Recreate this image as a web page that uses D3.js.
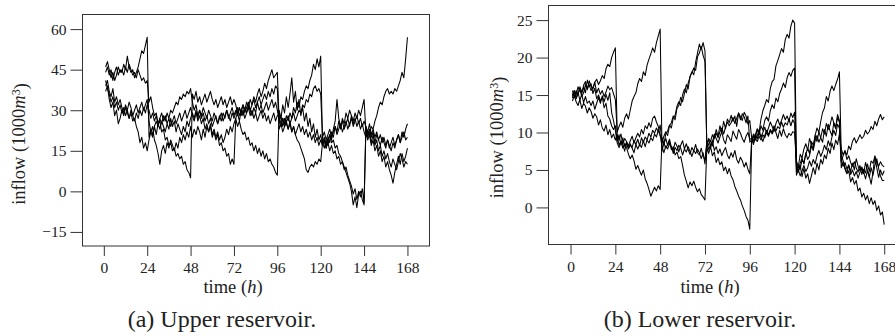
<!DOCTYPE html>
<html>
<head>
<meta charset="utf-8">
<script src="https://cdn.jsdelivr.net/npm/d3@7/dist/d3.min.js"></script>
<style>
body { margin: 0; background: #fff; }
.tick line { stroke: #333; }
.box { fill: none; stroke: #333; stroke-width: 1; }
.series { fill: none; stroke: #000; stroke-width: 1.05; stroke-linejoin: round; }
</style>
</head>
<body>
<script>

// hourly inflow scenarios, t = 1..168 (one row per day)
var hours = d3.range(1, 169);
var xTicks = [0, 24, 48, 72, 96, 120, 144, 168];
var upperTicks = [-15, 0, 15, 30, 45, 60];
var lowerTicks = [0, 5, 10, 15, 20, 25];

var upper1 = [
	44, 46, 43, 45, 41, 44, 46, 43, 45, 44, 47, 45, 50, 46, 44, 45, 42, 44, 46, 49, 52, 51, 54, 57,
	20, 23, 21, 24, 26, 24, 27, 25, 28, 26, 29, 27, 30, 29, 31, 33, 32, 35, 34, 36, 35, 37, 36, 38,
	33, 30, 32, 28, 30, 27, 29, 26, 28, 25, 27, 24, 26, 28, 25, 27, 29, 26, 28, 30, 27, 29, 31, 28,
	30, 28, 31, 29, 32, 30, 33, 31, 34, 32, 35, 33, 36, 38, 35, 37, 40, 38, 41, 43, 45, 42, 43, 44,
	26, 28, 24, 27, 25, 23, 26, 22, 24, 21, 19, 18, 16, 14, 12, 8, 7, 9, 10, 9, 11, 10, 12, 11,
	18, 20, 17, 19, 21, 18, 19, 16, 17, 14, 13, 11, 9, 7, 5, 3, 0, -5, -2, -6, -1, 0, -3, -5,
	24, 22, 25, 21, 23, 20, 22, 19, 21, 18, 20, 17, 19, 16, 18, 20, 17, 19, 21, 18, 22, 20, 23, 25];
var upper2 = [
	46, 48, 45, 42, 44, 41, 43, 46, 44, 45, 43, 46, 44, 47, 45, 43, 44, 42, 45, 43, 41, 42, 40, 41,
	33, 35, 31, 28, 29, 25, 26, 22, 23, 19, 20, 17, 18, 15, 16, 13, 14, 12, 13, 10, 11, 8, 7, 5,
	36, 34, 37, 33, 35, 32, 34, 36, 33, 35, 37, 34, 32, 34, 31, 33, 35, 32, 34, 31, 33, 35, 32, 34,
	32, 29, 31, 28, 30, 27, 29, 31, 28, 30, 27, 29, 26, 28, 30, 27, 29, 26, 28, 25, 27, 29, 26, 28,
	28, 25, 27, 24, 26, 28, 25, 27, 29, 26, 28, 30, 29, 32, 31, 34, 33, 36, 35, 38, 39, 37, 38, 36,
	20, 22, 19, 21, 23, 20, 22, 24, 21, 23, 25, 22, 24, 26, 23, 25, 27, 24, 26, 28, 25, 27, 24, 26,
	24, 21, 23, 20, 22, 18, 21, 19, 17, 20, 18, 16, 19, 17, 15, 18, 16, 19, 21, 18, 20, 22, 19, 20];
var upper3 = [
	41, 38, 36, 33, 35, 31, 33, 30, 32, 29, 31, 28, 30, 27, 29, 26, 27, 24, 22, 18, 20, 16, 18, 15,
	19, 22, 20, 24, 21, 25, 23, 26, 24, 22, 25, 23, 27, 24, 26, 22, 25, 23, 21, 24, 22, 26, 24, 27,
	29, 27, 30, 26, 28, 25, 27, 23, 25, 22, 24, 20, 22, 19, 21, 17, 18, 15, 16, 13, 14, 10, 12, 10,
	27, 24, 26, 23, 21, 22, 19, 20, 17, 18, 15, 17, 14, 16, 13, 15, 12, 14, 11, 12, 10, 9, 7, 6,
	30, 27, 32, 29, 35, 31, 36, 42, 33, 37, 30, 34, 28, 31, 26, 29, 24, 27, 22, 25, 20, 23, 19, 21,
	17, 19, 16, 20, 18, 22, 20, 24, 22, 26, 23, 27, 25, 29, 27, 30, 28, 26, 29, 27, 30, 28, 31, 34,
	22, 19, 21, 17, 19, 15, 17, 13, 15, 11, 13, 9, 11, 8, 6, 3, 7, 10, 13, 10, 14, 11, 13, 16];
var upper4 = [
	39, 41, 37, 35, 38, 33, 35, 32, 34, 31, 29, 32, 30, 33, 31, 28, 30, 32, 29, 31, 33, 30, 32, 34,
	26, 22, 24, 19, 17, 14, 10, 15, 17, 14, 18, 16, 19, 17, 15, 18, 16, 20, 18, 21, 19, 22, 20, 24,
	20, 23, 21, 24, 22, 19, 23, 20, 24, 22, 25, 21, 23, 20, 22, 19, 21, 18, 20, 23, 21, 24, 22, 25,
	27, 29, 26, 30, 28, 31, 29, 32, 30, 28, 31, 29, 33, 30, 32, 29, 31, 33, 30, 32, 34, 31, 33, 30,
	26, 24, 27, 25, 28, 26, 29, 27, 31, 29, 33, 31, 35, 34, 37, 39, 38, 41, 43, 47, 45, 49, 46, 50,
	18, 16, 19, 17, 21, 19, 23, 26, 34, 27, 24, 26, 23, 25, 27, 24, 28, 25, 27, 24, 26, 23, 25, 22,
	20, 22, 21, 24, 23, 26, 28, 31, 33, 32, 35, 37, 38, 36, 37, 36, 38, 37, 39, 41, 44, 42, 49, 57];
var upper5 = [
	37, 39, 34, 31, 33, 28, 30, 25, 27, 30, 28, 31, 29, 27, 30, 28, 26, 29, 27, 30, 28, 31, 29, 32,
	30, 27, 29, 26, 28, 25, 27, 29, 26, 28, 25, 27, 24, 26, 28, 25, 27, 29, 26, 28, 30, 27, 29, 31,
	28, 26, 29, 27, 30, 28, 31, 29, 27, 30, 28, 26, 29, 27, 25, 28, 26, 29, 27, 30, 28, 26, 29, 27,
	29, 31, 28, 30, 32, 29, 31, 33, 30, 32, 34, 31, 33, 35, 32, 34, 36, 34, 37, 35, 38, 36, 39, 38,
	23, 25, 22, 24, 26, 23, 25, 22, 24, 21, 23, 25, 22, 24, 21, 23, 20, 22, 19, 21, 18, 20, 17, 19,
	17, 19, 16, 18, 15, 17, 14, 15, 12, 13, 10, 11, 8, 9, 6, 4, 2, -1, 1, -3, 0, -2, 1, -4,
	23, 20, 22, 18, 21, 17, 19, 15, 17, 13, 15, 12, 14, 11, 9, 12, 10, 8, 11, 14, 12, 9, 11, 10];

var lower1 = [
	15.0, 15.6, 14.5, 15.2, 15.9, 14.8, 15.3, 16.4, 15.7, 16.9, 16.2, 15.8, 16.7, 17.1, 16.4, 16.9, 17.6, 17.2, 18.5, 19.1, 18.8, 20.0, 20.7, 21.3,
	9.6, 8.3, 8.9, 7.9, 8.5, 8.0, 7.1, 6.5, 7.0, 6.2, 5.1, 5.6, 4.9, 4.3, 5.0, 3.8, 3.2, 2.4, 1.5, 2.1, 2.7, 2.2, 2.9, 2.4,
	9.3, 8.4, 9.8, 10.2, 11.0, 10.6, 11.9, 12.3, 13.5, 14.1, 13.6, 15.0, 15.8, 15.3, 16.6, 17.4, 18.1, 17.7, 19.4, 20.6, 21.8, 21.1, 22.0, 20.9,
	8.3, 9.1, 8.0, 8.7, 9.8, 9.2, 8.6, 9.4, 10.1, 9.0, 8.5, 9.7, 9.3, 8.8, 10.2, 9.6, 9.1, 10.4, 9.9, 9.2, 8.7, 9.5, 10.0, 9.1,
	9.2, 8.4, 9.7, 10.5, 10.1, 11.8, 12.9, 13.6, 14.4, 14.0, 15.9, 16.8, 17.1, 18.9, 19.6, 20.4, 21.2, 20.7, 22.4, 23.1, 22.6, 24.2, 25.0, 24.6,
	5.4, 4.7, 5.9, 6.6, 5.8, 7.3, 6.4, 6.9, 8.2, 7.6, 8.9, 9.6, 8.7, 9.3, 10.5, 9.8, 11.2, 10.4, 11.0, 12.1, 11.3, 10.7, 12.4, 11.6,
	6.1, 6.9, 7.5, 7.0, 8.2, 7.7, 8.8, 9.3, 8.6, 9.1, 9.7, 9.2, 9.5, 10.3, 9.8, 10.1, 10.8, 10.4, 11.5, 10.9, 11.8, 12.4, 11.7, 12.1];
var lower2 = [
	14.6, 15.4, 15.0, 16.1, 15.5, 15.2, 16.3, 16.8, 15.9, 16.4, 15.6, 16.0, 16.7, 15.3, 15.9, 15.1, 15.6, 14.8, 15.4, 16.2, 15.7, 16.0, 15.2, 14.4,
	10.1, 10.8, 11.4, 10.7, 11.9, 12.5, 11.8, 13.0, 14.2, 14.8, 15.3, 16.5, 17.2, 16.8, 18.1, 17.6, 19.0, 19.8, 20.5, 21.3, 20.7, 22.0, 22.9, 23.8,
	7.5, 8.6, 7.9, 8.4, 9.1, 8.0, 7.6, 8.7, 8.2, 7.4, 8.3, 8.9, 7.8, 8.5, 7.7, 7.1, 8.0, 7.5, 8.4, 7.3, 7.0, 7.9, 6.8, 6.4,
	8.8, 7.7, 8.4, 8.9, 7.6, 8.1, 7.2, 7.8, 6.9, 7.5, 8.0, 7.0, 6.5, 7.3, 6.7, 7.6, 6.4, 5.9, 6.7, 6.2, 5.4, 6.0, 5.1, 4.5,
	9.0, 9.8, 9.3, 10.4, 9.7, 10.9, 10.3, 11.6, 12.1, 11.5, 12.9, 13.7, 13.2, 14.6, 14.1, 15.2, 15.8, 16.6, 16.0, 17.3, 18.0, 17.5, 18.3, 18.6,
	4.8, 5.5, 5.1, 6.4, 5.9, 7.1, 7.9, 7.2, 8.8, 8.3, 9.6, 10.6, 10.0, 11.5, 12.7, 13.3, 14.8, 14.2, 15.5, 16.2, 15.6, 16.4, 17.1, 18.1,
	7.0, 6.2, 5.1, 4.5, 4.9, 3.4, 4.0, 3.1, 3.6, 2.2, 2.6, 1.4, 1.9, 1.0, 1.6, 0.5, 1.3, 0.4, 0.9, -0.4, 0.2, -1.0, -0.6, -2.3];
var lower3 = [
	14.2, 14.9, 14.1, 13.6, 14.4, 13.2, 13.9, 13.5, 12.6, 13.3, 12.8, 11.9, 12.5, 12.1, 11.0, 11.7, 10.6, 10.2, 11.0, 9.7, 10.4, 9.3, 9.8, 9.0,
	9.7, 9.0, 9.8, 8.5, 9.2, 8.8, 8.2, 8.9, 9.5, 8.6, 9.3, 9.9, 9.4, 10.4, 9.8, 10.9, 10.5, 11.3, 10.7, 11.9, 12.2, 11.4, 10.8, 9.6,
	9.1, 8.5, 9.2, 8.3, 8.8, 7.7, 8.1, 7.0, 7.4, 6.5, 6.8, 5.6, 4.3, 3.5, 2.6, 3.4, 2.9, 3.5, 2.7, 2.1, 2.5, 1.7, 1.4, 1.0,
	8.0, 7.2, 8.1, 6.9, 7.4, 6.0, 6.6, 5.7, 6.1, 4.9, 5.4, 4.5, 5.2, 4.2, 3.7, 2.8, 2.2, 1.5, 1.0, 0.2, -0.4, -1.2, -1.7, -2.9,
	8.7, 9.5, 9.0, 9.6, 10.3, 9.4, 10.0, 10.7, 9.9, 10.6, 11.4, 10.8, 10.2, 11.2, 11.8, 11.0, 11.6, 12.4, 11.7, 12.2, 11.5, 12.6, 12.0, 12.7,
	5.9, 4.8, 5.6, 4.1, 5.2, 3.9, 4.5, 3.2, 4.2, 5.3, 4.4, 5.9, 5.0, 6.4, 5.8, 7.0, 6.5, 7.9, 7.2, 8.6, 7.7, 9.0, 8.4, 9.8,
	7.8, 7.0, 7.6, 6.4, 6.9, 6.0, 5.5, 6.1, 5.3, 4.7, 5.6, 4.4, 5.1, 4.6, 5.8, 4.8, 6.2, 5.9, 6.8, 6.0, 5.5, 6.1, 5.6, 5.4];
var lower4 = [
	15.6, 14.8, 15.6, 15.0, 16.1, 15.4, 16.0, 15.3, 17.0, 16.1, 16.5, 15.2, 15.9, 14.5, 15.0, 14.2, 14.7, 13.3, 13.9, 12.2, 11.8, 10.9, 10.4, 10.9,
	8.8, 9.7, 8.3, 9.3, 8.1, 8.7, 7.8, 8.3, 8.0, 8.9, 8.4, 9.1, 8.2, 9.3, 8.7, 9.4, 9.0, 9.9, 9.4, 10.3, 9.9, 10.6, 10.1, 11.0,
	8.6, 9.5, 10.1, 9.6, 10.9, 11.3, 12.2, 11.7, 13.2, 13.6, 14.7, 14.1, 15.2, 16.4, 15.8, 17.5, 18.0, 18.6, 18.3, 20.1, 20.6, 21.5, 20.3, 19.5,
	7.9, 8.5, 8.9, 8.2, 9.4, 9.9, 9.3, 10.1, 10.6, 9.8, 10.7, 11.4, 10.9, 11.3, 12.0, 11.2, 11.9, 12.6, 12.1, 11.6, 12.7, 12.2, 11.1, 11.6,
	9.3, 8.9, 9.8, 9.2, 9.9, 9.4, 8.8, 9.6, 10.3, 9.7, 10.4, 10.0, 10.9, 10.2, 10.8, 10.5, 11.4, 10.7, 11.3, 11.0, 11.8, 10.9, 11.7, 11.2,
	4.3, 5.0, 4.2, 4.9, 5.6, 4.8, 5.3, 6.2, 5.5, 6.4, 5.8, 6.9, 7.6, 6.8, 7.4, 8.3, 7.7, 8.9, 8.2, 9.4, 10.3, 9.6, 11.1, 10.6,
	6.2, 5.5, 6.0, 5.1, 5.7, 4.4, 5.0, 4.2, 4.8, 3.9, 4.7, 5.2, 4.5, 6.0, 5.0, 4.2, 3.1, 4.7, 6.9, 5.3, 4.0, 5.0, 4.3, 4.9];
var lower5 = [
	14.8, 15.6, 14.6, 15.4, 14.3, 15.1, 14.0, 14.8, 13.9, 14.2, 13.6, 14.2, 13.1, 13.9, 14.7, 13.9, 14.9, 14.1, 15.1, 14.3, 15.3, 12.7, 11.6, 10.3,
	8.6, 8.0, 8.8, 8.4, 7.5, 8.6, 7.9, 8.5, 7.9, 7.3, 8.4, 7.8, 8.4, 8.0, 8.9, 8.1, 9.0, 8.6, 9.3, 8.9, 9.8, 9.4, 10.3, 9.6,
	8.1, 7.3, 8.2, 7.8, 8.5, 8.1, 7.2, 8.0, 7.6, 8.3, 7.9, 7.0, 7.8, 7.4, 8.1, 7.5, 6.8, 7.6, 7.2, 7.8, 7.3, 6.5, 7.3, 5.8,
	8.5, 9.2, 8.8, 9.7, 9.2, 10.4, 9.5, 10.9, 10.0, 11.5, 10.5, 11.8, 11.3, 12.3, 11.5, 12.2, 10.8, 12.6, 11.7, 12.5, 12.1, 11.3, 12.2, 8.7,
	9.0, 8.6, 9.2, 8.8, 9.5, 9.0, 9.7, 9.3, 10.0, 9.5, 10.2, 9.8, 10.4, 10.0, 9.2, 10.3, 9.5, 10.5, 9.7, 9.3, 9.9, 9.6, 10.1, 10.0,
	6.2, 5.4, 7.1, 6.6, 7.8, 8.5, 7.6, 9.2, 8.4, 7.9, 9.6, 8.8, 10.1, 9.3, 8.7, 10.4, 9.5, 11.1, 10.2, 9.6, 11.3, 10.5, 12.0, 11.4,
	5.3, 6.1, 5.3, 4.6, 5.6, 4.8, 5.9, 5.0, 6.5, 5.5, 4.9, 5.4, 4.7, 3.8, 4.9, 4.0, 5.3, 4.3, 5.6, 6.5, 5.2, 4.2, 3.6, 3.6];

var svg = d3.select("body").append("svg")
	.attr("width", 895)
	.attr("height", 336);

/*
box = [left, right, top, bottom] of the plot frame in px
xDom / yDom = data range covered by the frame
*/
function drawPanel(box, xDom, yDom, yTicks, series, titles) {
	var x = d3.scaleLinear().domain(xDom).range([box[0], box[1]]);
	var y = d3.scaleLinear().domain(yDom).range([box[3], box[2]]);
	var g = svg.append("g");

	var line = d3.line()
		.x(function(d, i) { return x(hours[i]); })
		.y(function(d) { return y(d); });

	g.selectAll(".series")
		.data(series).enter()
		.append("path")
		.attr("class", "series")
		.attr("d", line);

	g.append("rect")
		.attr("class", "box")
		.attr("x", box[0])
		.attr("y", box[2])
		.attr("width", box[1] - box[0])
		.attr("height", box[3] - box[2]);

	var yAxis = g.append("g")
		.attr("transform", "translate(" + box[0] + ",0)")
		.call(d3.axisLeft(y).tickValues(yTicks).tickSize(12).tickPadding(4));
	yAxis.select(".domain").remove();

	var xAxis = g.append("g")
		.attr("transform", "translate(0," + box[3] + ")")
		.call(d3.axisBottom(x).tickValues(xTicks).tickSize(10).tickPadding(6));
	xAxis.select(".domain").remove();
	g.selectAll(".tick text").style("font-size", "15.5px");

	var xt = g.append("text")
		.attr("text-anchor", "middle")
		.attr("x", titles.xLabel[0])
		.attr("y", titles.xLabel[1])
		.style("font-size", "18.5px");
	xt.append("tspan").text("time (");
	xt.append("tspan").style("font-style", "italic").text("h");
	xt.append("tspan").text(")");

	var yt = g.append("text")
		.attr("text-anchor", "middle")
		.attr("transform", "translate(" + titles.yLabel[0] + "," + titles.yLabel[1] + ") rotate(-90)")
		.style("font-size", "18.5px");
	yt.append("tspan").text("inflow (1000");
	yt.append("tspan").style("font-style", "italic").text("m");
	yt.append("tspan").attr("dy", "-0.38em").style("font-size", "65%").text("3");
	yt.append("tspan").attr("dy", "0.38em").text(")");

	g.append("text")
		.attr("text-anchor", "middle")
		.attr("x", titles.caption[0])
		.attr("y", titles.caption[1])
		.style("font-size", "24px")
		.text(titles.caption[2]);
}

drawPanel([82.5, 429.5, 14.5, 246], [-11.8, 180.2], [-20.2, 65.4], upperTicks,
	[upper1, upper2, upper3, upper4, upper5],
	{xLabel: [233, 293], yLabel: [25, 144], caption: [222, 327, "(a) Upper reservoir."]});

drawPanel([548.5, 907, 5.5, 244.5], [-11.8, 180.2], [-4.95, 26.95], lowerTicks,
	[lower1, lower2, lower3, lower4, lower5],
	{xLabel: [710, 293], yLabel: [503, 137.5], caption: [700, 327, "(b) Lower reservoir."]});

// serif face for every label, set on the elements themselves
svg.selectAll("text")
	.attr("font-family", "Liberation Serif")
	.style("font-family", "'Liberation Serif'")
	.style("fill", "#222");

</script>
</body>
</html>
